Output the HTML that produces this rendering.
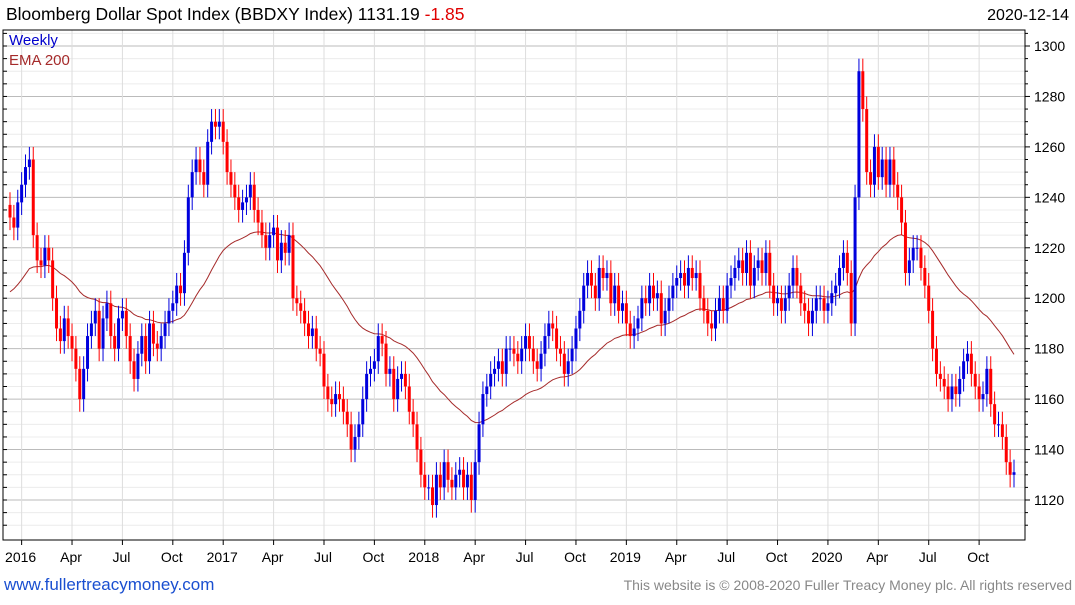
<!DOCTYPE html>
<html><head><meta charset="utf-8">
<style>
body{margin:0;background:#fff;width:1075px;height:600px;overflow:hidden;font-family:"Liberation Sans",sans-serif;}
svg text{font-family:"Liberation Sans",sans-serif;}
</style></head>
<body>
<svg id="c" width="1075" height="600">
<rect x="0" y="0" width="1075" height="600" fill="#fff"/>
<text x="6" y="20" font-size="17.5" fill="#000">Bloomberg Dollar Spot Index (BBDXY Index) 1131.19 <tspan fill="#e00000">-1.85</tspan></text>
<text x="1069" y="20" font-size="16" text-anchor="end" fill="#000">2020-12-14</text>
<g id="grid"></g>
<g id="ema"></g>
<g id="candles"></g>
<rect x="3" y="30" width="1022" height="510" fill="none" stroke="#000" stroke-width="1"/>
<g id="axes"></g>
<text x="9" y="45" font-size="15" fill="#0000cc">Weekly</text>
<text x="9" y="65" font-size="15" fill="#a52a2a">EMA 200</text>
<text x="4" y="590" font-size="17" fill="#1a4fd0">www.fullertreacymoney.com</text>
<text x="1072" y="590" font-size="14" fill="#888" text-anchor="end">This website is © 2008-2020 Fuller Treacy Money plc. All rights reserved</text>
</svg>
<script>
const closes = [1232,1228,1238,
1245,1252,1255,1225,1215,1213,1220,1215,1200,1188,1183,1192,1185,
1180,1172,1160,1172,1185,1190,1195,1180,1192,1198,1185,1180,1192,
1195,1185,1175,1168,1178,1185,1175,1190,1182,1180,1185,1190,1195,
1198,1205,1202,1218,1240,1250,1255,1250,1245,1262,1270,1268,1270,
1262,1250,1245,1240,1235,1238,1240,1245,1235,1230,1225,1220,1225,
1228,1215,1222,1218,1225,1200,1198,1195,1190,1185,1188,1180,1178,
1165,1160,1158,1162,1160,1155,1150,1140,1145,1150,1160,1170,1172,
1175,1185,1182,1170,1172,1160,1168,1170,1165,1155,1150,1140,1130,
1125,1125,1118,1130,1125,1135,1128,1125,1130,1132,1125,1130,1120,
1135,1150,1162,1165,1170,1172,1175,1170,1180,1180,1178,1175,1180,
1185,1180,1175,1172,1178,1185,1190,1188,1180,1178,1170,1175,1180,
1188,1195,1205,1210,1205,1200,1212,1208,1210,1198,1205,1195,1198,
1190,1185,1188,1192,1200,1198,1205,1200,1202,1190,1195,1200,1205,
1208,1210,1205,1212,1208,1210,1200,1195,1190,1188,1195,1200,1195,
1205,1208,1212,1215,1210,1218,1205,1212,1215,1210,1218,1205,1198,
1200,1195,1200,1205,1212,1205,1198,1195,1190,1195,1200,1200,1195,
1198,1202,1205,1212,1218,1210,1190,1240,1290,1275,1250,1245,1260,
1248,1255,1245,1255,1245,1240,1230,1210,1215,1220,1220,1212,1205,
1195,1180,1170,1168,1165,1160,1165,1162,1168,1175,1178,1170,1165,
1160,1162,1172,1158,1150,1150,1145,1135,1130,1131];
const firstOpen = 1237;
const emaSeed = 1201;
const emaPeriod = 40;
const yTicks = [1120,1140,1160,1180,1200,1220,1240,1260,1280,1300];
const xTickLabels = ["2016","Apr","Jul","Oct","2017","Apr","Jul","Oct","2018","Apr","Jul","Oct","2019","Apr","Jul","Oct","2020","Apr","Jul","Oct"];
const xTickWeeks = [3,16,29,42,55,68,81,94,107,120,133,146,159,172,185,198,211,224,237,250];

const NS="http://www.w3.org/2000/svg";
const X0=10, X1=1014, PT=30, PB=540, PL=3, PR=1025;
function xs(i){return X0+i*(X1-X0)/(closes.length-1);}
function ys(v){return 46+(1300-v)*454/180;}
function mk(tag,attrs,parent){const e=document.createElementNS(NS,tag);for(const k in attrs)e.setAttribute(k,attrs[k]);parent.appendChild(e);return e;}
const grid=document.getElementById('grid'),axes=document.getElementById('axes'),cg=document.getElementById('candles'),eg=document.getElementById('ema');
for(let v=1110;v<=1305;v+=5){const y=ys(v);if(y<PT||y>PB)continue;
 const l=mk('line',{x1:PL,x2:PR,y1:y,y2:y,stroke:v%20===0?'#bbb':'#ececec','stroke-width':1},grid);
 
 
 mk('line',{x1:PL,x2:PL+4,y1:y,y2:y,stroke:'#000','stroke-width':1},axes);
 mk('line',{x1:PR,x2:PR+(v%20===0?5:3),y1:y,y2:y,stroke:'#000','stroke-width':1},axes);
}
yTicks.forEach(v=>{const t=mk('text',{x:1034,y:ys(v)+5,'font-size':14,fill:'#000'},axes);t.textContent=v;
 
 });
xTickWeeks.forEach((w,k)=>{const x=xs(w);
 const l=mk('line',{x1:x,x2:x,y1:PT,y2:PB,stroke:'#ddd','stroke-width':1},grid);
 
 
 mk('line',{x1:x,x2:x,y1:PB,y2:PB+5,stroke:'#000'},axes);
 const t=mk('text',{x:x-1,y:562,'font-size':14,'text-anchor':'middle',fill:'#000'},axes);t.textContent=xTickLabels[k];
 
 });
let prev=firstOpen;const alpha=2/(emaPeriod+1);let ema=emaSeed;const pts=[];
closes.forEach((c,i)=>{const o=prev;const x=xs(i);const up=c>=o;const col=up?'#0000dd':'#ff0000';
 const hi=Math.max(o,c)+5,lo=Math.min(o,c)-5;
 const g=mk('g',{},cg);
 
 
 mk('line',{x1:x,x2:x,y1:ys(hi),y2:ys(lo),stroke:col,'stroke-width':1},g);
 const y1=ys(Math.max(o,c)),y2=ys(Math.min(o,c));
 mk('rect',{x:x-1.5,y:y1,width:3,height:Math.max(1,y2-y1),fill:col},g);
 prev=c;ema=ema+alpha*(c-ema);pts.push(x.toFixed(1)+','+ys(ema).toFixed(1));});
const pl=mk('polyline',{points:pts.join(' '),fill:'none',stroke:'#a52a2a','stroke-width':1},eg);


</script>
</body></html>
